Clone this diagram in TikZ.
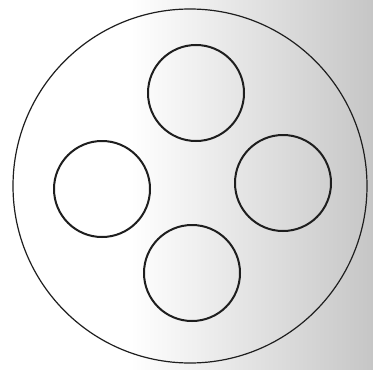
\documentclass[tikz,border=0pt]{standalone}
\usepackage{xcolor}
\usepackage{tikz}
\usetikzlibrary{backgrounds}
\definecolor{pgrey}{HTML}{C6C6C6}
\definecolor{pink}{HTML}{1E1E1E}
\begin{document}
\begin{tikzpicture}[x=0.5pt,y=-0.5pt,
    plate/.style={draw=pink,circle,line width=0.6pt,inner sep=0pt,minimum size=177pt},
    hole/.style={draw=pink,circle,line width=1pt,inner sep=0pt,minimum size=48pt}]
      \useasboundingbox (0,0) rectangle (373,369);
      % stippled background, white on the left, grey on the right
      \fill[white] (0,0) rectangle (373,369);
      \shade[left color=white,right color=pgrey]
        (130,0) rectangle (373,369);
      \node[plate] (p) at (190,186) {};
      \node[hole] (n) at (196,93) {};
      \node[hole] (w) at (102,189) {};
      \node[hole] (e) at (283,183) {};
      \node[hole] (s) at (192,273) {};
    \end{tikzpicture}
\end{document}
